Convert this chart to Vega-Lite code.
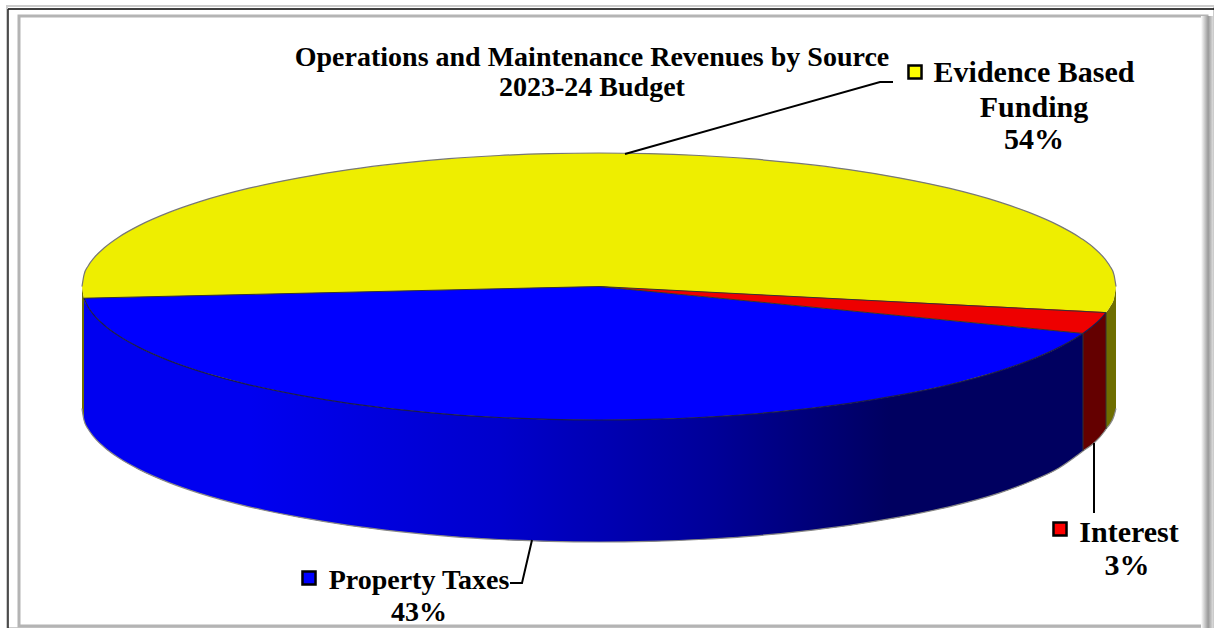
{"$schema":"https://vega.github.io/schema/vega-lite/v6.json","width":1214,"height":628,"autosize":"none","padding":0,"background":"#ffffff","config":{"view":{"stroke":null}},
"datasets":{"rim":[
{"x":82,"top":286.5,"bot":286.5,"wall":408.5},
{"x":84,"top":274.8,"bot":298.2,"wall":420.2,"blueTop":298.2},
{"x":88,"top":266.2,"bot":306.8,"wall":428.8,"blueTop":298.1},
{"x":94,"top":257.9,"bot":315.1,"wall":437.1,"blueTop":298},
{"x":104,"top":248,"bot":325,"wall":447,"blueTop":297.7},
{"x":119,"top":236.9,"bot":336.1,"wall":458.1,"blueTop":297.4},
{"x":139,"top":225.6,"bot":347.4,"wall":469.4,"blueTop":296.9},
{"x":169,"top":212.4,"bot":360.6,"wall":482.6,"blueTop":296.3},
{"x":199,"top":201.9,"bot":371.1,"wall":493.1,"blueTop":295.6},
{"x":249,"top":188.2,"bot":384.8,"wall":506.8,"blueTop":294.5},
{"x":299,"top":177.8,"bot":395.2,"wall":517.2,"blueTop":293.3},
{"x":349,"top":169.6,"bot":403.4,"wall":525.4,"blueTop":292.2},
{"x":399,"top":163.4,"bot":409.6,"wall":531.6,"blueTop":291},
{"x":449,"top":158.7,"bot":414.3,"wall":536.3,"blueTop":289.9},
{"x":499,"top":155.5,"bot":417.5,"wall":539.5,"blueTop":288.8},
{"x":549,"top":153.6,"bot":419.4,"wall":541.4,"blueTop":287.6},
{"x":599,"top":153,"bot":420,"wall":542,"blueTop":286.5},
{"x":649,"top":153.6,"bot":419.4,"wall":541.4,"blueTop":291.3},
{"x":699,"top":155.5,"bot":417.5,"wall":539.5,"blueTop":296.2},
{"x":749,"top":158.7,"bot":414.3,"wall":536.3,"blueTop":301},
{"x":799,"top":163.4,"bot":409.6,"wall":531.6,"blueTop":305.9},
{"x":849,"top":169.6,"bot":403.4,"wall":525.4,"blueTop":310.7},
{"x":899,"top":177.8,"bot":395.2,"wall":517.2,"blueTop":315.6},
{"x":949,"top":188.2,"bot":384.8,"wall":506.8,"blueTop":320.4},
{"x":999,"top":201.9,"bot":371.1,"wall":493.1,"blueTop":325.3},
{"x":1029,"top":212.4,"bot":360.6,"wall":482,"blueTop":328.2},
{"x":1059,"top":225.6,"bot":347.4,"wall":468,"blueTop":331.1},
{"x":1079,"top":236.9,"bot":336.1,"wall":454,"blueTop":333},
{"x":1083,"top":239.6,"bot":333.4,"wall":451,"blueTop":333.4},
{"x":1094,"top":248,"bot":325,"wall":443},
{"x":1104,"top":257.9,"bot":315.1,"wall":432},
{"x":1106,"top":260.4,"bot":312.6,"wall":429},
{"x":1110,"top":266.2,"bot":306.8,"wall":424},
{"x":1114,"top":274.8,"bot":298.2,"wall":416},
{"x":1116,"top":286.5,"bot":286.5,"wall":408.5}],
"red":[{"x":599,"y":286.5,"y2":286.5},{"x":1083,"y":310.8,"y2":333.4},{"x":1094,"y":311.4,"y2":325},{"x":1104,"y":311.9,"y2":315.1},{"x":1106,"y":312.6,"y2":312.6}],
"edges":[
{"id":"a","o":1,"x":84,"y":298.2},{"id":"a","o":2,"x":599,"y":286.5},{"id":"a","o":3,"x":1106,"y":312.6},
{"id":"b","o":1,"x":599,"y":286.5},{"id":"b","o":2,"x":1083,"y":333.4},
{"id":"c","o":1,"x":1083,"y":333.4},{"id":"c","o":2,"x":1083,"y":451},
{"id":"d","o":1,"x":1106,"y":312.6},{"id":"d","o":2,"x":1106,"y":429}],
"leaders":[
{"id":"Evidence Based Funding","o":1,"x":625,"y":154},{"id":"Evidence Based Funding","o":2,"x":880,"y":82},{"id":"Evidence Based Funding","o":3,"x":893,"y":82},
{"id":"Interest","o":1,"x":1094,"y":443},{"id":"Interest","o":2,"x":1094,"y":513},
{"id":"Property Taxes","o":1,"x":532,"y":540},{"id":"Property Taxes","o":2,"x":522,"y":583},{"id":"Property Taxes","o":3,"x":510,"y":583}],
"keys":[{"source":"Evidence Based Funding","share":54,"x":915,"y":72},{"source":"Property Taxes","share":43,"x":309,"y":578},{"source":"Interest","share":3,"x":1060,"y":529}],
"titles":[{"t":"Operations and Maintenance Revenues by Source","x":592,"y":58},{"t":"2023-24 Budget","x":592,"y":88}],
"labels":[{"t":"Evidence Based","x":1034,"y":73},{"t":"Funding","x":1034,"y":108},{"t":"54%","x":1034,"y":140},{"t":"Interest","x":1129,"y":533},{"t":"3%","x":1127,"y":566}],
"labelsB":[{"t":"Property Taxes","x":419,"y":581},{"t":"43%","x":419,"y":613}]},
"encoding":{"x":{"field":"x","type":"quantitative","axis":null,"scale":{"domain":[0,1214],"nice":false,"zero":false}}},
"layer":[
{"data":{"values":[{"x":7,"x2":1214,"y":6,"y2":628}]},"mark":{"type":"rect","fill":null,"stroke":"#cccccc","strokeWidth":2},"encoding":{"x2":{"field":"x2"},"y":{"field":"y","type":"quantitative","axis":null,"scale":{"domain":[628,0],"nice":false,"zero":false}},"y2":{"field":"y2"}}},
{"data":{"values":[{"x":8,"x2":1214,"y":9,"y2":9}]},"mark":{"type":"rect","fill":null,"stroke":"#000000","strokeWidth":1},"encoding":{"x2":{"field":"x2"},"y":{"field":"y","type":"quantitative"},"y2":{"field":"y2"}}},
{"data":{"values":[{"x":8,"x2":8,"y":9,"y2":628}]},"mark":{"type":"rect","fill":null,"stroke":"#222222","strokeWidth":1},"encoding":{"x2":{"field":"x2"},"y":{"field":"y","type":"quantitative"},"y2":{"field":"y2"}}},
{"data":{"values":[{"x":19,"x2":1207,"y":16,"y2":626}]},"mark":{"type":"rect","fill":null,"stroke":"#b4b4b4","strokeWidth":3},"encoding":{"x2":{"field":"x2"},"y":{"field":"y","type":"quantitative"},"y2":{"field":"y2"}}},
{"data":{"values":[{"x":1201,"x2":1213,"y":16,"y2":628}]},"mark":{"type":"rect","stroke":null,"fill":{"gradient":"linear","x1":0,"y1":0,"x2":1,"y2":0,"stops":[{"offset":0,"color":"#ffffff"},{"offset":0.6,"color":"#999999"},{"offset":1,"color":"#dddddd"}]}},"encoding":{"x2":{"field":"x2"},"y":{"field":"y","type":"quantitative"},"y2":{"field":"y2"}}},
{"data":{"name":"rim"},"mark":{"type":"area","orient":"vertical","interpolate":"monotone","color":"#6e6e00"},"encoding":{"y":{"field":"bot","type":"quantitative"},"y2":{"field":"wall"}}},
{"data":{"name":"rim"},"transform":[{"filter":{"field":"x","range":[84,1083]}}],"mark":{"type":"area","orient":"vertical","interpolate":"monotone","color":{"gradient":"linear","x1":0,"y1":0,"x2":1,"y2":0,"stops":[{"offset":0,"color":"#0000f0"},{"offset":0.166,"color":"#0000f0"},{"offset":0.416,"color":"#0000cc"},{"offset":0.63,"color":"#000098"},{"offset":0.807,"color":"#000060"},{"offset":1,"color":"#000060"}]}},"encoding":{"y":{"field":"bot","type":"quantitative"},"y2":{"field":"wall"}}},
{"data":{"name":"rim"},"transform":[{"filter":{"field":"x","range":[1083,1106]}}],"mark":{"type":"area","orient":"vertical","interpolate":"linear","color":"#640000"},"encoding":{"y":{"field":"bot","type":"quantitative"},"y2":{"field":"wall"}}},
{"data":{"name":"rim"},"mark":{"type":"area","orient":"vertical","interpolate":"monotone","color":"#eeee00"},"encoding":{"y":{"field":"top","type":"quantitative"},"y2":{"field":"bot"}}},
{"data":{"name":"rim"},"transform":[{"filter":{"field":"x","range":[84,1083]}}],"mark":{"type":"area","orient":"vertical","interpolate":"linear","color":"#0000ff"},"encoding":{"y":{"field":"blueTop","type":"quantitative"},"y2":{"field":"bot"}}},
{"data":{"name":"red"},"mark":{"type":"area","orient":"vertical","interpolate":"linear","color":"#ee0000"},"encoding":{"y":{"field":"y","type":"quantitative"},"y2":{"field":"y2"}}},
{"data":{"name":"rim"},"mark":{"type":"line","interpolate":"monotone","stroke":"#777777","strokeWidth":1.2},"encoding":{"y":{"field":"top","type":"quantitative"}}},
{"data":{"name":"rim"},"mark":{"type":"line","interpolate":"monotone","stroke":"#888888","strokeWidth":1.2},"encoding":{"y":{"field":"wall","type":"quantitative"}}},
{"data":{"name":"rim"},"transform":[{"filter":{"field":"x","range":[84,1106]}}],"mark":{"type":"line","interpolate":"monotone","stroke":"#1a1a50","strokeWidth":1.2},"encoding":{"y":{"field":"bot","type":"quantitative"}}},
{"data":{"name":"edges"},"mark":{"type":"line","stroke":"#333333","strokeWidth":1},"encoding":{"y":{"field":"y","type":"quantitative"},"detail":{"field":"id"},"order":{"field":"o"}}},
{"data":{"name":"leaders"},"mark":{"type":"line","stroke":"#000000","strokeWidth":2},"encoding":{"y":{"field":"y","type":"quantitative"},"detail":{"field":"id"},"order":{"field":"o"}}},
{"data":{"name":"keys"},"mark":{"type":"point","shape":"square","filled":true,"size":170,"stroke":"#000000","strokeWidth":2.5,"opacity":1},"encoding":{"y":{"field":"y","type":"quantitative"},"fill":{"field":"source","type":"nominal","legend":null,"scale":{"domain":["Evidence Based Funding","Property Taxes","Interest"],"range":["#ffff00","#0000ff","#ff0000"]}}}},
{"data":{"name":"titles"},"mark":{"type":"text","font":"Liberation Serif","fontWeight":"bold","fontSize":28,"align":"center","baseline":"middle","color":"#000000"},"encoding":{"y":{"field":"y","type":"quantitative"},"text":{"field":"t"}}},
{"data":{"name":"labels"},"mark":{"type":"text","font":"Liberation Serif","fontWeight":"bold","fontSize":30,"align":"center","baseline":"middle","color":"#000000"},"encoding":{"y":{"field":"y","type":"quantitative"},"text":{"field":"t"}}},
{"data":{"name":"labelsB"},"mark":{"type":"text","font":"Liberation Serif","fontWeight":"bold","fontSize":28,"align":"center","baseline":"middle","color":"#000000"},"encoding":{"y":{"field":"y","type":"quantitative"},"text":{"field":"t"}}}
]}
